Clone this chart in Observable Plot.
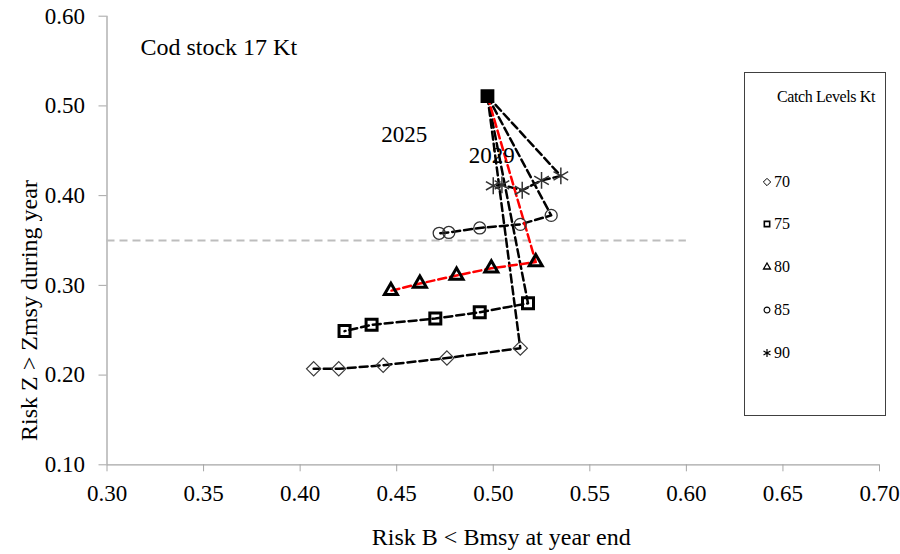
<!DOCTYPE html>
<html><head><meta charset="utf-8">
<script src="https://cdn.jsdelivr.net/npm/d3@7"></script>
<script src="https://cdn.jsdelivr.net/npm/@observablehq/plot@0.6"></script>
<style>
body{margin:0;background:#fff;}
#wrap{position:relative;width:900px;height:554px;font-family:"Liberation Serif","Times New Roman",serif;color:#000;}
#legend{position:absolute;left:744px;top:72px;width:142px;height:344px;border:1px solid #404040;box-sizing:border-box;background:#fff;}
#legend .title{position:absolute;left:0;width:100%;padding-left:22px;box-sizing:border-box;top:14px;text-align:center;font-size:16px;letter-spacing:-0.4px;line-height:20px;}
#legend .item{position:absolute;left:16px;height:20px;line-height:20px;font-size:16px;display:flex;align-items:center;}
#legend .item svg{display:block;margin-right:1px;}
</style></head>
<body><div id="wrap"></div>
<script>
// Catch levels (Kt) and trajectories: first point is the common 2025 start
const catchLevels = [70, 75, 80, 85, 90];
const riskB70 = [0.497, 0.514, 0.476, 0.443, 0.420, 0.407];
const riskZ70 = [0.511, 0.230, 0.219, 0.211, 0.207, 0.207];
const riskB75 = [0.497, 0.518, 0.493, 0.470, 0.437, 0.423];
const riskZ75 = [0.511, 0.280, 0.270, 0.263, 0.256, 0.249];
const riskB80 = [0.497, 0.522, 0.499, 0.481, 0.462, 0.447];
const riskZ80 = [0.511, 0.326, 0.319, 0.311, 0.302, 0.294];
const riskB85 = [0.497, 0.530, 0.514, 0.493, 0.477, 0.472];
const riskZ85 = [0.511, 0.378, 0.368, 0.364, 0.359, 0.358];
const riskB90 = [0.497, 0.535, 0.525, 0.515, 0.5045, 0.500];
const riskZ90 = [0.511, 0.422, 0.417, 0.406, 0.412, 0.411];

const xTicks = [0.30, 0.35, 0.40, 0.45, 0.50, 0.55, 0.60, 0.65, 0.70];
const yTicks = [0.10, 0.20, 0.30, 0.40, 0.50, 0.60];
const refZ = [0.35];
const refRange = [0.30, 0.60];
const yearLabels = ["2025", "2029"];
const yearX = [0.4539, 0.4992];
const yearY = [0.4682, 0.4443];
const stockLabel = ["Cod stock 17 Kt"];
const stockX = [0.3173];
const stockY = [0.5652];
const xTitle = "Risk B < Bmsy at year end";
const yTitle = "Risk Z > Zmsy during year";
const legendTitle = "Catch Levels Kt";

const seriesB = [riskB70, riskB75, riskB80, riskB85, riskB90];
const seriesZ = [riskZ70, riskZ75, riskZ80, riskZ85, riskZ90];
const rows = [];
catchLevels.forEach((lv, k) => seriesB[k].forEach((b, i) => rows.push({level: lv, b, z: seriesZ[k][i], i})));

const style = {
  70: {symbol: "diamond2", r: 6.4, stroke: "#3a3a3a", strokeWidth: 1.2},
  75: {symbol: "square2", r: 7, stroke: "#000", strokeWidth: 3},
  80: {symbol: "triangle2", r: 6.2, stroke: "#000", strokeWidth: 3},
  85: {symbol: "circle", r: 6, stroke: "#333", strokeWidth: 1.3},
  90: {symbol: "asterisk", r: 8, stroke: "#333", strokeWidth: 1.5}
};
const font = "Liberation Serif, Times New Roman, serif";

const marks = [
  Plot.ruleX([0.30], {stroke: "#a6a6a6", strokeWidth: 1.3}),
  Plot.ruleY([0.10], {stroke: "#a6a6a6", strokeWidth: 1.3}),
  Plot.ruleY(refZ, {x1: refRange[0], x2: refRange[1], stroke: "#bdbdbd", strokeWidth: 2, strokeDasharray: "8,5"}),
  Plot.axisX(xTicks, {tickFormat: ".2f", tickSize: 7, tickPadding: 13, stroke: "#a6a6a6", fill: "#000", fontSize: 23, label: null}),
  Plot.axisY(yTicks, {tickFormat: ".2f", tickSize: 8, tickPadding: 14, stroke: "#a6a6a6", fill: "#000", fontSize: 23, label: null}),
  Plot.line(rows.filter(d => d.level !== 80), {x: "b", y: "z", z: "level", stroke: "#000", strokeWidth: 2.5, strokeDasharray: "8,4"}),
  Plot.line(rows.filter(d => d.level === 80), {x: "b", y: "z", stroke: "#ff0000", strokeWidth: 2.5, strokeDasharray: "8,4"}),
  ...catchLevels.map(lv => Plot.dot(rows.filter(d => d.level === lv && d.i > 0), {x: "b", y: "z", symbol: style[lv].symbol, r: style[lv].r, stroke: style[lv].stroke, strokeWidth: style[lv].strokeWidth, fill: "none"})),
  // common 2025 starting point, where all the markers pile up
  Plot.dot(rows.filter(d => d.i === 0 && d.level === 75), {x: "b", y: "z", symbol: "square2", r: 7.2, stroke: "#000", strokeWidth: 2.5, fill: "#000"}),
  Plot.text(yearLabels, {x: (d, i) => yearX[i], y: (d, i) => yearY[i], fontSize: 23, fill: "#000"}),
  Plot.text(stockLabel, {x: (d, i) => stockX[i], y: (d, i) => stockY[i], textAnchor: "start", fontSize: 24, fill: "#000"}),
  Plot.text([xTitle], {frameAnchor: "bottom", textAnchor: "middle", lineAnchor: "middle", dx: 8, dy: 73, fontSize: 24, fill: "#000"}),
  Plot.text([yTitle], {frameAnchor: "left", textAnchor: "middle", lineAnchor: "middle", rotate: -90, dx: -78, dy: 70, fontSize: 24, fill: "#000"})
];

const chart = Plot.plot({
  width: 900, height: 554,
  marginLeft: 106.5, marginRight: 21, marginTop: 15.7, marginBottom: 89.7,
  x: {domain: [0.30, 0.70]},
  y: {domain: [0.10, 0.60]},
  style: {fontFamily: font, fontSize: "23px", background: "#fff", color: "#000"},
  marks
});
const wrap = document.getElementById("wrap");
wrap.appendChild(chart);

// legend
const legend = document.createElement("div");
legend.id = "legend";
const t = document.createElement("div");
t.className = "title"; t.textContent = legendTitle;
legend.appendChild(t);
const symMap = {70: d3.symbolDiamond2, 75: d3.symbolSquare2, 80: d3.symbolTriangle2, 85: d3.symbolCircle, 90: d3.symbolAsterisk};
const legR = {70: 3.3, 75: 3.4, 80: 3.3, 85: 2.9, 90: 3.8};
const legSW = {70: 1, 75: 1.6, 80: 1.3, 85: 1.2, 90: 1.2};
const legY = [181, 223, 266, 309, 352];
catchLevels.forEach((lv, k) => {
  const it = document.createElement("div");
  it.className = "item";
  it.style.top = (legY[k] - 72 - 10) + "px";
  const path = d3.symbol(symMap[lv], Math.PI * legR[lv] * legR[lv])();
  it.innerHTML = `<svg width="12" height="12" viewBox="-6 -6 12 12"><path d="${path}" fill="none" stroke="#000" stroke-width="${legSW[lv]}"/></svg><span>${lv}</span>`;
  legend.appendChild(it);
});
wrap.appendChild(legend);
</script>
</body></html>
